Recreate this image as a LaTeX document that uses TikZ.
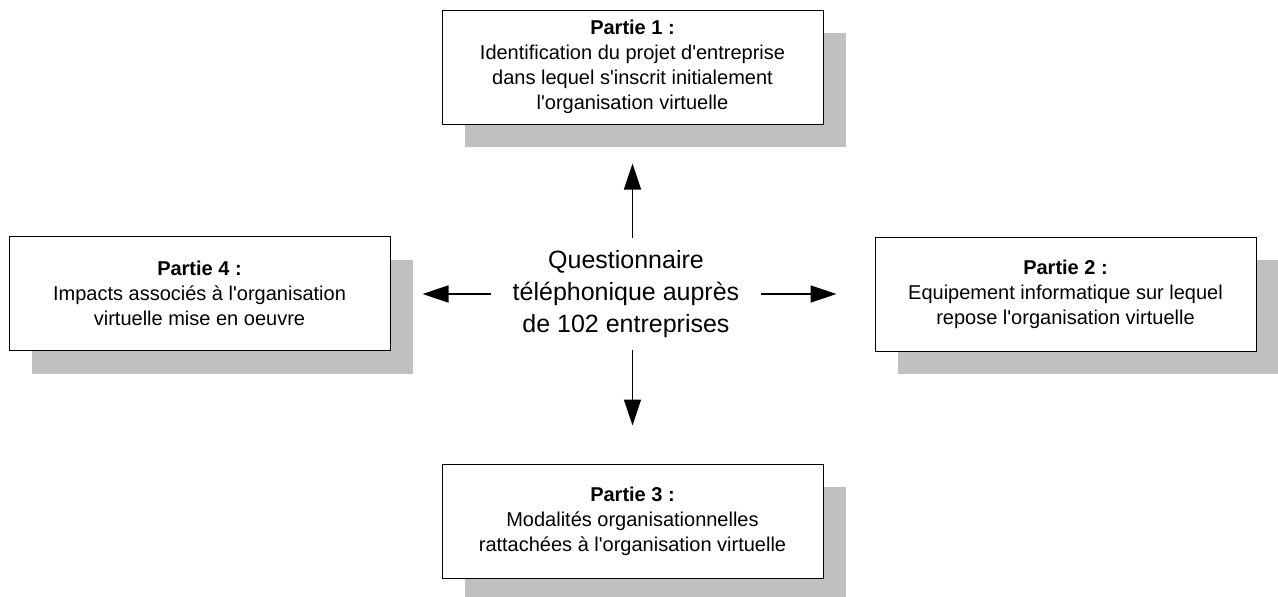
\documentclass[tikz,border=0pt]{standalone}
\usepackage{fontspec}
\newfontfamily\arial{Liberation Sans}
\usetikzlibrary{arrows.meta,shadows}
\definecolor{shadowgray}{HTML}{C0C0C0}
\tikzset{
  part/.style={draw=black, line width=1pt, fill=white, minimum width=381pt, minimum height=114pt,
    align=center, inner sep=0pt, font=\arial\fontsize{20}{25}\selectfont,
    drop shadow={shadow xshift=23pt, shadow yshift=-23pt, fill=shadowgray, opacity=1}},
  center/.style={minimum width=270pt, minimum height=112pt, inner sep=0pt, align=center,
    font=\arial\fontsize{25}{31.7}\selectfont},
  arr/.style={line width=1.5pt, -{Triangle[length=26pt,width=17pt]}}
}
\begin{document}
\begin{tikzpicture}[x=1pt,y=-1pt]
\useasboundingbox (0,0) rectangle (1278,597);
\node[part] (b1) at (632.5,67) {\textbf{Partie 1 :}\\Identification du projet d'entreprise\\dans lequel s'inscrit initialement\\l'organisation virtuelle};
\node[part] (b4) at (199.5,293.5) {\textbf{Partie 4 :}\\Impacts associés à l'organisation\\virtuelle mise en oeuvre};
\node[part] (b2) at (1065.5,294) {\textbf{Partie 2 :}\\Equipement informatique sur lequel\\repose l'organisation virtuelle};
\node[part] (b3) at (632.5,521) {\textbf{Partie 3 :}\\Modalités organisationnelles\\rattachées à l'organisation virtuelle};
\node[center] (c) at (626,294) {Questionnaire\\téléphonique auprès\\de 102 entreprises};
\draw[arr, shorten >=39pt] (b1.south |- c.north) -- (b1.south);
\draw[arr, shorten >=38pt] (b3.north |- c.south) -- (b3.north);
\draw[arr, shorten >=32pt] (c.west) -- (c.west -| b4.east);
\draw[arr, shorten >=38pt] (c.east) -- (c.east -| b2.west);
\end{tikzpicture}
\end{document}
